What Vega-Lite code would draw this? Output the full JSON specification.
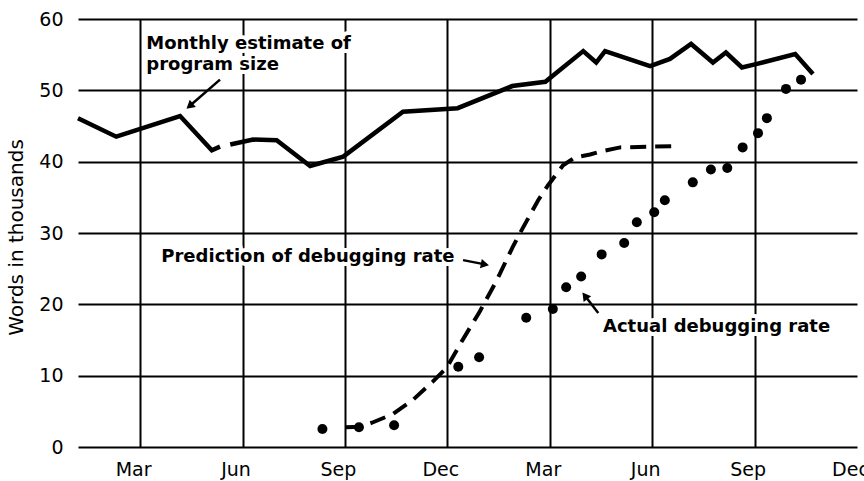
{
  "$schema": "https://vega.github.io/schema/vega-lite/v6.json",
  "width": 779,
  "height": 428,
  "autosize": {"type": "none"},
  "padding": {"left": 78, "top": 19, "right": 7, "bottom": 34},
  "background": "white",
  "config": {"view": {"stroke": null}, "font": "DejaVu Sans"},
  "datasets": {
    "size": [
      {"seg": "a", "m": 1.18, "v": 46.1},
      {"seg": "a", "m": 2.3, "v": 43.5},
      {"seg": "a", "m": 4.17, "v": 46.4},
      {"seg": "a", "m": 5.1, "v": 41.6},
      {"seg": "a", "m": 5.34, "v": 42.1},
      {"seg": "b", "m": 5.64, "v": 42.4},
      {"seg": "b", "m": 6.31, "v": 43.1},
      {"seg": "b", "m": 7.0, "v": 43.0},
      {"seg": "b", "m": 7.98, "v": 39.4},
      {"seg": "b", "m": 8.95, "v": 40.7},
      {"seg": "b", "m": 10.7, "v": 47.0},
      {"seg": "b", "m": 12.3, "v": 47.5},
      {"seg": "b", "m": 13.9, "v": 50.6},
      {"seg": "b", "m": 14.87, "v": 51.2},
      {"seg": "b", "m": 15.98, "v": 55.5},
      {"seg": "b", "m": 16.36, "v": 53.9},
      {"seg": "b", "m": 16.62, "v": 55.5},
      {"seg": "b", "m": 17.94, "v": 53.4},
      {"seg": "b", "m": 18.52, "v": 54.4},
      {"seg": "b", "m": 19.14, "v": 56.5},
      {"seg": "b", "m": 19.78, "v": 53.9},
      {"seg": "b", "m": 20.16, "v": 55.3},
      {"seg": "b", "m": 20.63, "v": 53.2},
      {"seg": "b", "m": 21.07, "v": 53.7},
      {"seg": "b", "m": 22.19, "v": 55.1},
      {"seg": "b", "m": 22.71, "v": 52.3}
    ],
    "pred": [
      {"m": 9.03, "v": 2.76},
      {"m": 9.45, "v": 2.85},
      {"m": 9.79, "v": 3.4},
      {"m": 10.4, "v": 4.6},
      {"m": 10.99, "v": 6.6},
      {"m": 11.58, "v": 9.2},
      {"m": 11.98, "v": 11.1},
      {"m": 12.42, "v": 14.8},
      {"m": 12.95, "v": 19.0},
      {"m": 13.45, "v": 23.4},
      {"m": 13.92, "v": 28.1},
      {"m": 14.13, "v": 30.0},
      {"m": 14.66, "v": 34.6},
      {"m": 14.95, "v": 36.7},
      {"m": 15.39, "v": 39.5},
      {"m": 15.74, "v": 40.6},
      {"m": 16.18, "v": 41.0},
      {"m": 16.56, "v": 41.5},
      {"m": 17.06, "v": 42.0},
      {"m": 17.94, "v": 42.1},
      {"m": 18.76, "v": 42.2}
    ],
    "actual": [
      {"m": 8.34, "v": 2.52},
      {"m": 9.41, "v": 2.76},
      {"m": 10.44, "v": 3.04},
      {"m": 12.32, "v": 11.26},
      {"m": 12.93, "v": 12.58},
      {"m": 14.31, "v": 18.13},
      {"m": 15.09, "v": 19.35},
      {"m": 15.48, "v": 22.4},
      {"m": 15.92, "v": 23.9},
      {"m": 16.52, "v": 27.0},
      {"m": 17.18, "v": 28.6},
      {"m": 17.55, "v": 31.5},
      {"m": 18.06, "v": 32.9},
      {"m": 18.37, "v": 34.6},
      {"m": 19.19, "v": 37.1},
      {"m": 19.72, "v": 38.9},
      {"m": 20.2, "v": 39.1},
      {"m": 20.65, "v": 42.0},
      {"m": 21.1, "v": 44.0},
      {"m": 21.36, "v": 46.1},
      {"m": 21.92, "v": 50.2},
      {"m": 22.36, "v": 51.5}
    ],
    "arrows": [
      {"id": "size", "m": 4.45, "v": 47.8, "m2": 5.34, "v2": 51.5},
      {"id": "pred", "m": 13.1, "v": 25.6, "m2": 12.46, "v2": 26.2},
      {"id": "actual", "m": 16.03, "v": 21.2, "m2": 16.42, "v2": 18.8}
    ],
    "labels": [
      {"t": "Monthly estimate of", "m": 3.18, "v": 55.8},
      {"t": "program size", "m": 3.18, "v": 52.9},
      {"t": "Prediction of debugging rate", "m": 3.62, "v": 26.0},
      {"t": "Actual debugging rate", "m": 16.56, "v": 16.1}
    ]
  },
  "encoding": {
    "x": {
      "field": "m",
      "type": "quantitative",
      "scale": {"domain": [1.18, 24], "nice": false, "zero": false},
      "axis": {
        "title": null,
        "values": [3, 6, 9, 12, 15, 18, 21, 24],
        "labelExpr": "['Mar','Jun','Sep','Dec'][(round(datum.value / 3) - 1) % 4]",
        "grid": true,
        "gridColor": {"condition": {"test": "datum.value >= 24", "value": "transparent"}, "value": "black"},
        "gridWidth": 2,
        "domain": false,
        "ticks": false,
        "labelFont": "DejaVu Sans",
        "labelFontSize": 19,
        "labelColor": "black",
        "labelPadding": 13,
        "labelOffset": -7,
        "labelFlush": false,
        "labelOverlap": false,
        "labelBound": false
      }
    },
    "y": {
      "field": "v",
      "type": "quantitative",
      "scale": {"domain": [0, 60], "nice": false},
      "axis": {
        "title": "Words in thousands",
        "values": [0, 10, 20, 30, 40, 50, 60],
        "grid": true,
        "gridColor": "black",
        "gridWidth": 2,
        "domain": false,
        "ticks": false,
        "labelFont": "DejaVu Sans",
        "labelFontSize": 19,
        "labelColor": "black",
        "labelPadding": 15,
        "titleFont": "DejaVu Sans",
        "titleFontSize": 20,
        "titleFontWeight": "normal",
        "titleColor": "black",
        "titlePadding": 12,
        "titleY": 218
      }
    }
  },
  "layer": [
    {
      "data": {"name": "size"},
      "mark": {"type": "line", "color": "black", "strokeWidth": 4.5, "strokeJoin": "miter"},
      "encoding": {"detail": {"field": "seg"}}
    },
    {
      "data": {"name": "pred"},
      "mark": {"type": "line", "color": "black", "strokeWidth": 4, "strokeDash": [16, 9], "strokeCap": "butt"},
      "encoding": {}
    },
    {
      "data": {"name": "actual"},
      "mark": {"type": "circle", "color": "black", "opacity": 1, "size": 100},
      "encoding": {}
    },
    {
      "data": {"name": "arrows"},
      "mark": {"type": "rule", "color": "black", "strokeWidth": 2.5},
      "encoding": {"x2": {"field": "m2"}, "y2": {"field": "v2"}}
    },
    {
      "data": {"name": "arrows"},
      "transform": [{"filter": "datum.id === 'size'"}],
      "mark": {"type": "point", "shape": "triangle-up", "filled": true, "color": "black", "opacity": 1, "size": 90, "angle": 230},
      "encoding": {}
    },
    {
      "data": {"name": "arrows"},
      "transform": [{"filter": "datum.id === 'pred'"}],
      "mark": {"type": "point", "shape": "triangle-up", "filled": true, "color": "black", "opacity": 1, "size": 90, "angle": 101},
      "encoding": {}
    },
    {
      "data": {"name": "arrows"},
      "transform": [{"filter": "datum.id === 'actual'"}],
      "mark": {"type": "point", "shape": "triangle-up", "filled": true, "color": "black", "opacity": 1, "size": 90, "angle": 323},
      "encoding": {}
    },
    {
      "data": {"name": "labels"},
      "mark": {"type": "text", "align": "left", "baseline": "alphabetic", "font": "DejaVu Sans", "fontWeight": "bold", "fontSize": 18, "fill": "white", "stroke": "white", "strokeWidth": 8, "strokeJoin": "round"},
      "encoding": {"text": {"field": "t"}}
    },
    {
      "data": {"name": "labels"},
      "mark": {"type": "text", "align": "left", "baseline": "alphabetic", "font": "DejaVu Sans", "fontWeight": "bold", "fontSize": 18, "color": "black"},
      "encoding": {"text": {"field": "t"}}
    }
  ]
}
